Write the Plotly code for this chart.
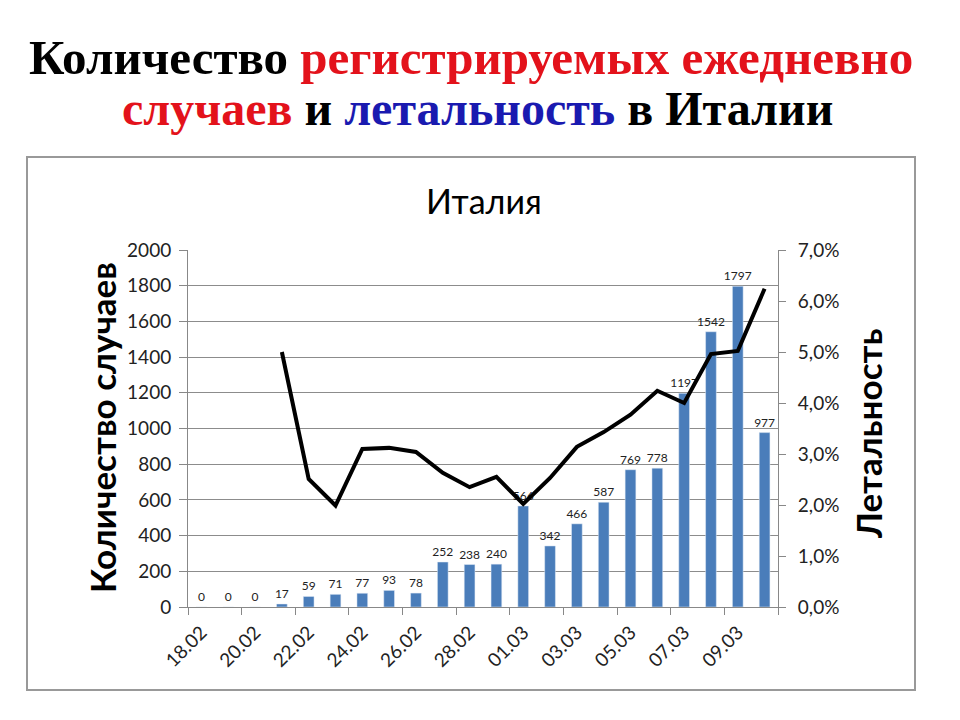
import plotly.graph_objects as go

dates = ["18.02","19.02","20.02","21.02","22.02","23.02","24.02","25.02","26.02","27.02","28.02","29.02",
         "01.03","02.03","03.03","04.03","05.03","06.03","07.03","08.03","09.03","10.03"]
cases = [0,0,0,17,59,71,77,93,78,252,238,240,566,342,466,587,769,778,1197,1542,1797,977]
lethality = [None,None,None,0.050,0.0251,0.0199,0.0310,0.0312,0.0304,0.0263,0.0235,0.0255,
             0.0202,0.0253,0.0314,0.0343,0.0377,0.0424,0.0400,0.0496,0.0502,0.0624]
tick_labels = dates[::2]

x = list(range(len(dates)))
font_c = "Lato, 'Open Sans', sans-serif"

fig = go.Figure()
fig.add_trace(go.Bar(x=x, y=cases, marker_color="#4A7DBA", width=0.4,
                     text=[str(v) for v in cases], textposition="outside", constraintext="none",
                     textfont=dict(size=12, color="#222", family=font_c),
                     cliponaxis=False, yaxis="y", xaxis="x"))
fig.add_trace(go.Scatter(x=x, y=lethality, mode="lines", line=dict(color="black", width=4),
                         yaxis="y2", xaxis="x"))
# invisible trace to show tick marks at category boundaries
fig.add_trace(go.Scatter(x=[x[0]], y=[0], mode="markers", marker=dict(opacity=0),
                         xaxis="x2", yaxis="y", hoverinfo="skip"))

fig.update_layout(
    width=960, height=720,
    paper_bgcolor="white", plot_bgcolor="white",
    showlegend=False,
    separators=",.",
    margin=dict(l=188, r=182, t=250, b=113),
    xaxis=dict(range=[-0.5, 21.5], tickmode="array", tickvals=x[::2], ticktext=tick_labels,
               tickangle=-45, ticks="", showgrid=False, showline=True, linecolor="#888",
               ticklabelstandoff=6,
               tickfont=dict(size=19, color="#222", family=font_c), zeroline=False),
    xaxis2=dict(range=[-0.5, 21.5], overlaying="x", anchor="y", side="bottom",
                tickmode="array", tickvals=[i - 0.5 for i in range(0, 23, 2)],
                showticklabels=False, ticks="outside", ticklen=7, tickcolor="#888",
                showgrid=False, showline=False, zeroline=False),
    yaxis=dict(range=[0, 2000], dtick=200, tickformat="d", showgrid=True, gridcolor="#8c8c8c",
               gridwidth=1, showline=True, linecolor="#888", ticks="outside", ticklen=8,
               tickcolor="#888", zeroline=False, ticklabelstandoff=4,
               tickfont=dict(size=19, color="#222", family=font_c)),
    yaxis2=dict(range=[0, 0.07], dtick=0.01, tickformat=".1%", overlaying="y", side="right",
                showgrid=False, showline=True, linecolor="#888", ticks="outside", ticklen=7,
                tickcolor="#888", zeroline=False, ticklabelstandoff=8,
                tickfont=dict(size=19, color="#222", family=font_c)),
)

fig.add_annotation(xref="paper", yref="paper", x=(102 - 188) / 590, y=(607 - 428) / 357,
                   xanchor="center", yanchor="middle", text="<b>Количество случаев</b>",
                   textangle=-90, showarrow=False, font=dict(size=35, color="black", family=font_c))
fig.add_annotation(xref="paper", yref="paper", x=(868 - 188) / 590, y=(607 - 434) / 357,
                   xanchor="center", yanchor="middle", text="<b>Летальность</b>",
                   textangle=-90, showarrow=False, font=dict(size=35, color="black", family=font_c))
fig.add_annotation(xref="paper", yref="paper", x=(484 - 188) / 590, y=1.0, yshift=50,
                   xanchor="center", yanchor="middle",
                   text="Италия", showarrow=False, font=dict(size=34, color="black", family=font_c))
fig.add_annotation(xref="paper", yref="paper", x=(471 - 188) / 590, y=1.0, yshift=193,
                   xanchor="center", yanchor="middle",
                   text="<b>Количество <span style='color:#e3121b'>регистрируемых ежедневно</span></b>",
                   showarrow=False, font=dict(size=49, color="black", family="'Liberation Serif', serif"))
fig.add_annotation(xref="paper", yref="paper", x=(477 - 188) / 590, y=1.0, yshift=142,
                   xanchor="center", yanchor="middle",
                   text="<b><span style='color:#e3121b'>случаев</span> и <span style='color:#1a1ab0'>летальность</span> в Италии</b>",
                   showarrow=False, font=dict(size=48, color="black", family="'Liberation Serif', serif"))
fig.add_shape(type="rect", xref="paper", yref="paper",
              x0=(27 - 188) / 590, x1=(915 - 188) / 590, y0=(607 - 690) / 357, y1=(607 - 157) / 357,
              line=dict(color="#999", width=2), fillcolor="rgba(0,0,0,0)")

fig.write_html("out.html")
